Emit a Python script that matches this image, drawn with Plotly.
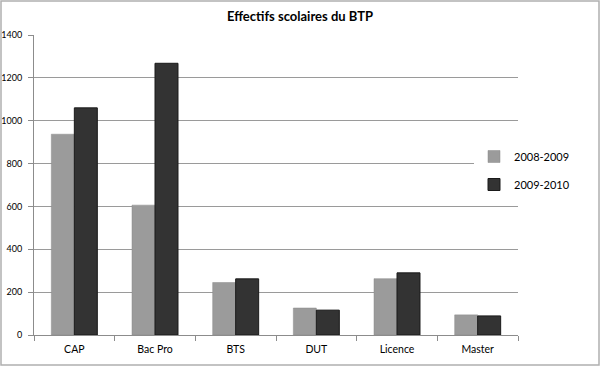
import plotly.graph_objects as go

categories = ["CAP", "Bac Pro", "BTS", "DUT", "Licence", "Master"]
series_names = ["2008-2009", "2009-2010"]
values_2008 = [937, 606, 245, 126, 263, 94]
values_2009 = [1060, 1268, 262, 116, 290, 89]
y_ticks = [0, 200, 400, 600, 800, 1000, 1200, 1400]

FONT = "Lato, 'Open Sans', sans-serif"

fig = go.Figure()
fig.add_trace(go.Bar(
    x=categories, y=values_2008, name=series_names[0],
    marker=dict(color="#9b9b9b", line=dict(color="#8a8a8a", width=0.5)),
    legendgroup="a",
))
fig.add_trace(go.Bar(
    x=categories, y=values_2009, name=series_names[1],
    marker=dict(color="#333333", line=dict(color="#1a1a1a", width=1)),
    legendgroup="b",
))

L, R, T, B = 34, 82, 35, 31
W, H = 600, 366
pw, ph = W - L - R, H - T - B

fig.update_layout(
    width=W, height=H,
    margin=dict(l=L, r=R, t=T, b=B, autoexpand=False),
    paper_bgcolor="white", plot_bgcolor="white",
    font=dict(family=FONT, color="#000000"),
    barmode="group", bargap=0.43, bargroupgap=0,
    title=dict(text="<b>Effectifs scolaires du BTP</b>", x=0.5, xanchor="center",
               y=1 - 16 / H, yanchor="middle", font=dict(size=13, family=FONT)),
    legend=dict(x=(474 - L) / pw, xanchor="left", y=(335 - 142) / ph,
                yanchor="top", bgcolor="white", font=dict(size=11, family=FONT),
                tracegroupgap=9, traceorder="grouped"),
    showlegend=True,
)
fig.update_xaxes(
    type="category", showline=True, linecolor="#8c8c8c", linewidth=1,
    ticks="outside", tickson="boundaries", ticklen=5, tickcolor="#8c8c8c",
    tickfont=dict(size=10.5, family=FONT), showgrid=False, automargin=False,
    ticklabelstandoff=4,
)
fig.update_yaxes(
    range=[0, 1400], tickvals=y_ticks, showgrid=True, gridcolor="#9a9a9a", gridwidth=1,
    showline=True, linecolor="#8c8c8c", linewidth=1, ticks="outside", ticklen=5,
    tickcolor="#8c8c8c", tickfont=dict(size=9, family=FONT), zeroline=False,
    ticklabelstandoff=4, automargin=False,
)
fig.add_shape(type="rect", xref="paper", yref="paper",
              x0=(1 - L) / pw, x1=(W - 1 - L) / pw,
              y0=(T + ph - (H - 1)) / ph, y1=(T + ph - 1) / ph,
              line=dict(color="#b0b0b0", width=1.5), fillcolor="rgba(0,0,0,0)", layer="above")

post = "document.body.style.margin='0';document.body.style.padding='0';"
fig.write_html("out.html", post_script=post, config={"displayModeBar": False})
